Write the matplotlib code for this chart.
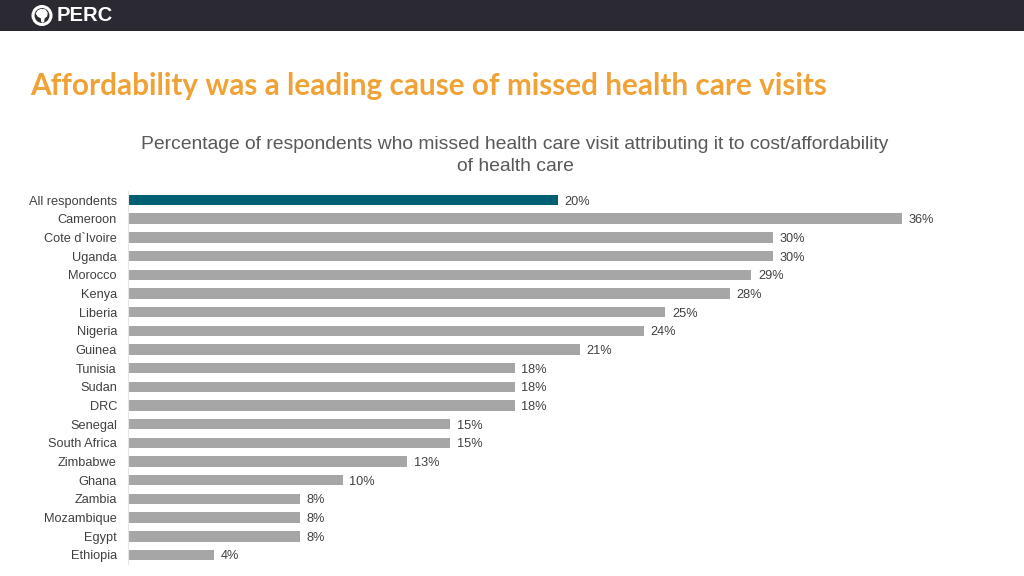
import numpy as np
import matplotlib.pyplot as plt
import matplotlib.patches as patches

countries = [ 'All respondents', 'Cameroon', 'Cote d`Ivoire', 'Uganda', 'Morocco',
              'Kenya', 'Liberia', 'Nigeria', 'Guinea', 'Tunisia', 'Sudan', 'DRC',
              'Senegal', 'South Africa', 'Zimbabwe', 'Ghana', 'Zambia',
              'Mozambique', 'Egypt', 'Ethiopia' ]
values = [ 20, 36, 30, 30, 29, 28, 25, 24, 21, 18, 18, 18, 15, 15, 13, 10, 8, 8, 8, 4 ]

title = 'Affordability was a leading cause of missed health care visits'
subtitle = ( 'Percentage of respondents who missed health care visit attributing it to cost/affordability\n'
             'of health care' )

W, H = 1024, 576
fig = plt.figure( figsize = ( W / 100, H / 100 ), dpi = 100 )
fig.patch.set_facecolor( 'white' )

# header band
hdr = fig.add_axes( [ 0, 1 - 31 / H, 1, 31 / H ] )
hdr.set_xlim( 0, W )
hdr.set_ylim( 0, 31 )
hdr.axis( 'off' )
hdr.add_patch( patches.Rectangle( ( 0, 0 ), W, 31, color = '#2b2a33' ) )
hdr.add_patch( patches.Circle( ( 42, 15.5 ), 9, fill = False, ec = 'white', lw = 2.2 ) )
africa = np.array( [ [ 38, 20 ], [ 41, 21.5 ], [ 45, 21 ], [ 47, 18 ], [ 46.5, 15 ],
                     [ 44, 13 ], [ 43.5, 9.5 ], [ 42, 9 ], [ 41.5, 13 ], [ 38, 15 ], [ 36.5, 17.5 ] ] )
hdr.add_patch( patches.Polygon( africa, closed = True, color = 'white' ) )
hdr.text( 57, 15.5, 'PERC', color = 'white', fontsize = 14.6, fontweight = 'bold',
          family = 'Liberation Sans', va = 'center', ha = 'left' )

fig.text( 30 / W, 1 - 86 / H, title, color = '#f0a236', fontsize = 21.4,
          fontweight = 'bold', family = 'Lato', va = 'center', ha = 'left' )
fig.text( 515 / W, 1 - 155.5 / H, subtitle, color = '#595959', fontsize = 13.9,
          family = 'Liberation Sans', va = 'center', ha = 'center', linespacing = 1.4 )

# bars
x0 = 128
pxper = 21.5
top_px, bot_px = 190.7, 564.3
ax = fig.add_axes( [ x0 / W, 1 - bot_px / H, ( 1000 - x0 ) / W, ( bot_px - top_px ) / H ] )
y = np.arange( len( countries ) )
colors = [ '#005f73' ] + [ '#a6a6a6' ] * ( len( countries ) - 1 )
ax.barh( y, values, height = 0.56, color = colors )
ax.set_xlim( 0, ( 1000 - x0 ) / pxper )
ax.set_ylim( len( countries ) - 0.5, -0.5 )
for yi, v in zip( y, values ):
    ax.text( v + 0.3, yi + 0.08, '%d%%' % v, va = 'center', ha = 'left',
             fontsize = 9.2, color = '#404040', family = 'Liberation Sans' )
ax.set_yticks( y )
ax.set_yticklabels( countries, fontsize = 9.2, color = '#404040', family = 'Liberation Sans' )
ax.tick_params( axis = 'y', length = 0, pad = 8 )
ax.set_xticks( [] )
for s in [ 'top', 'right', 'bottom' ]:
    ax.spines[ s ].set_visible( False )
ax.spines[ 'left' ].set_color( '#e6e6e6' )
ax.spines[ 'left' ].set_linewidth( 0.8 )

plt.savefig( 'out.png', dpi = 100 )
